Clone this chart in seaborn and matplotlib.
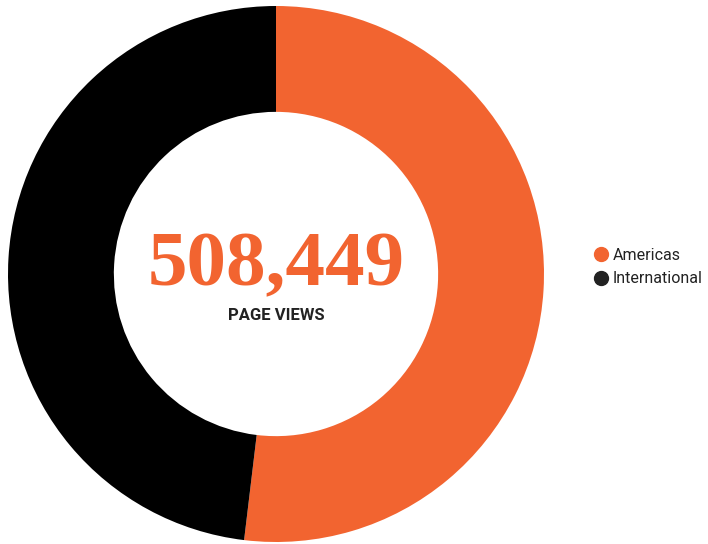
import matplotlib.pyplot as plt
import seaborn as sns
from matplotlib.lines import Line2D

# data
regions = ["Americas", "International"]
shares = [51.9, 48.1]
total_views = "508,449"
colors = ["#F26430", "#000000"]
legend_colors = ["#F26430", "#222222"]

sns.set_theme(style="white")
plt.rcParams['font.family'] = ['Roboto', 'DejaVu Sans']

fig = plt.figure(figsize=(7.08, 5.44), dpi=100)
ax = fig.add_axes([8 / 708, 2 / 544, 536 / 708, 536 / 544])

ax.pie(
    shares,
    colors=colors,
    startangle=90,
    counterclock=False,
    radius=1.0,
    wedgeprops=dict(width=0.395, edgecolor="none"),
)
ax.set_xlim(-1, 1)
ax.set_ylim(-1, 1)
ax.set_aspect("equal")
ax.axis("off")

# centre label
ax.text(0, 0.028, total_views, ha="center", va="center", color="#F26430",
        fontsize=57, fontweight="bold",
        family=['Liberation Serif', 'DejaVu Serif'])
ax.text(0, -0.155, "PAGE VIEWS", ha="center", va="center", color="#222222",
        fontsize=12, fontweight="bold")

handles = [Line2D([0], [0], marker="o", linestyle="none", markersize=10,
                  markerfacecolor=c, markeredgecolor=c) for c in legend_colors]
fig.legend(handles, regions, loc="center left", bbox_to_anchor=(0.817, 0.509),
           frameon=False, fontsize=11.5, handletextpad=0.25, labelspacing=0.55,
           handlelength=1.0, labelcolor="#222222")

fig.savefig("out.png", dpi=100)
